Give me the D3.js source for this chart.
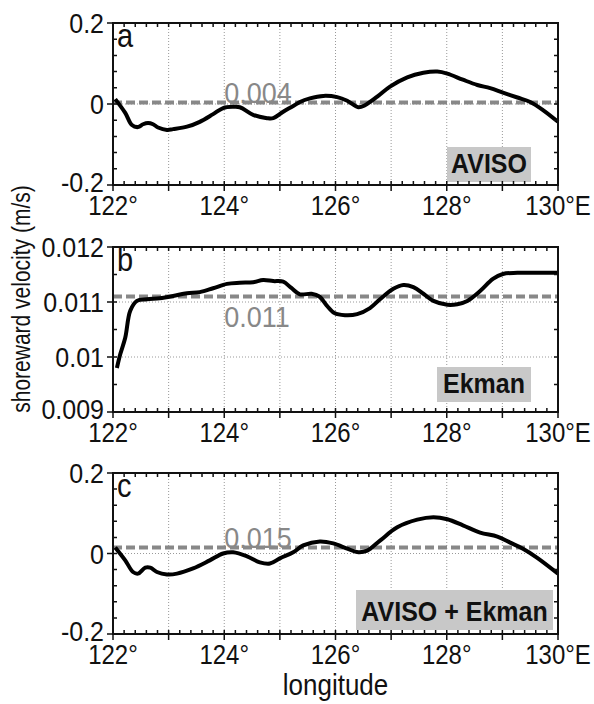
<!DOCTYPE html>
<html>
<head>
    <script src="https://cdnjs.cloudflare.com/ajax/libs/d3/7.8.5/d3.min.js"></script>
    <style>
        body { margin: 0; background: #fff; }
        svg text { font-family: "Liberation Sans", Arial, sans-serif; fill: #111; }
        .grid { stroke: #999; stroke-width: 1; stroke-dasharray: 1,2; }
        .frame { fill: none; stroke: #111; stroke-width: 2; }
        .tick { stroke: #111; stroke-width: 1.5; }
        .curve { fill: none; stroke: #000; stroke-width: 4; stroke-linejoin: round; }
        .mean { stroke: #888; stroke-width: 4; stroke-dasharray: 9,4; }
    </style>
</head>
<body>
<div id="chart"></div>
<script>
    const width = 594;
    const height = 704;

    // longitude ticks
    const lonTicks = [122, 123, 124, 125, 126, 127, 128, 129, 130];
    const lonLabels = ["122°", "", "124°", "", "126°", "", "128°", "", "130°E"];

    // panel a: AVISO
    const aLon = [122.04, 122.22, 122.34, 122.45, 122.54, 122.63, 122.72, 122.81, 122.97, 123.08,
                  123.33, 123.56, 123.80, 123.98, 124.16, 124.28, 124.52, 124.77, 124.88, 125.06,
                  125.24, 125.36, 125.54, 125.78, 126.03, 126.21, 126.41, 126.53, 126.75, 126.98,
                  127.29, 127.58, 127.83, 128.01, 128.29, 128.55, 128.78, 129.01, 129.27, 129.50,
                  129.73, 130.00];
    const aVal = [0.012, -0.022, -0.052, -0.057, -0.050, -0.047, -0.050, -0.058, -0.064, -0.062,
                  -0.056, -0.044, -0.025, -0.010, -0.007, -0.008, -0.027, -0.035, -0.035, -0.019,
                  -0.005, 0.005, 0.014, 0.020, 0.017, 0.008, -0.008, -0.003, 0.018, 0.043,
                  0.066, 0.077, 0.080, 0.075, 0.060, 0.047, 0.039, 0.028, 0.016, 0.005,
                  -0.015, -0.044];

    // panel b: Ekman
    const bLon = [122.07, 122.13, 122.22, 122.31, 122.43, 122.61, 122.84, 123.08, 123.33, 123.56,
                  123.80, 124.05, 124.28, 124.52, 124.70, 124.88, 125.06, 125.20, 125.36,
                  125.57, 125.71, 125.84, 125.98, 126.17, 126.39, 126.62, 126.80, 127.04,
                  127.22, 127.40, 127.58, 127.76, 128.01, 128.19, 128.37, 128.60, 128.83, 129.01,
                  129.27, 129.74, 130.00];
    const bVal = [0.00980, 0.01005, 0.01035, 0.01084, 0.01102, 0.01105, 0.01107, 0.01111, 0.01116, 0.01118,
                  0.01125, 0.01133, 0.01135, 0.01136, 0.01140, 0.01138, 0.01137, 0.01126, 0.01114,
                  0.01115, 0.01110, 0.01094, 0.01080, 0.01076, 0.01078, 0.01089, 0.01105, 0.01124,
                  0.01131, 0.01127, 0.01115, 0.01102, 0.01095, 0.01096, 0.01102, 0.01120, 0.01142, 0.01151,
                  0.01153, 0.01153, 0.01153];

    // panel c: AVISO + Ekman
    const cLon = [122.04, 122.22, 122.36, 122.45, 122.58, 122.67, 122.79, 122.97, 123.15, 123.44,
                  123.74, 123.98, 124.16, 124.41, 124.64, 124.82, 125.00, 125.24, 125.42, 125.72,
                  125.96, 126.21, 126.41, 126.57, 126.80, 127.11, 127.47, 127.76, 128.01, 128.29,
                  128.60, 128.91, 129.14, 129.37, 129.62, 130.00];
    const cVal = [0.015, -0.017, -0.046, -0.050, -0.035, -0.035, -0.046, -0.052, -0.050, -0.037,
                  -0.017, 0.000, 0.003, -0.007, -0.022, -0.025, -0.012, 0.003, 0.020, 0.030,
                  0.025, 0.012, 0.003, 0.007, 0.032, 0.065, 0.084, 0.090, 0.085, 0.070,
                  0.052, 0.042, 0.027, 0.012, -0.010, -0.050];

    // mean values (dashed lines) and their labels
    const meanVals = [0.004, 0.0111, 0.015];
    const meanLabels = ["0.004", "0.011", "0.015"];

    // y ticks
    const yTicksAC = [-0.2, 0, 0.2];
    const yLabelsAC = ["-0.2", "0", "0.2"];
    const yTicksB = [0.009, 0.010, 0.011, 0.012];
    const yLabelsB = ["0.009", "0.01", "0.011", "0.012"];

    const panelLetters = ["a", "b", "c"];
    const boxLabels = ["AVISO", "Ekman", "AVISO + Ekman"];

    const svg = d3.select("#chart")
        .append("svg")
        .attr("width", width)
        .attr("height", height);

    const left = 113, right = 558;
    const x = d3.scaleLinear().domain([122, 130]).range([left, right]);

    // the original's lettering is a bit taller than wide
    function addText(g, tx, ty, str, size, anchor) {
        return g.append("text")
            .attr("transform", `translate(${tx},${ty}) scale(1,1.12)`)
            .attr("text-anchor", anchor || "start")
            .attr("font-size", size)
            .text(str);
    }

    const panels = [
        {top: 23, bottom: 185, lon: aLon, val: aVal, domain: [-0.2, 0.2], ticks: yTicksAC, labels: yLabelsAC,
         minorStep: 0.04, mean: meanVals[0], meanLabel: meanLabels[0], labelDy: 0, box: [447, 531, 147, 182]},
        {top: 247, bottom: 412, lon: bLon, val: bVal, domain: [0.009, 0.012], ticks: yTicksB, labels: yLabelsB,
         minorStep: 0.0005, mean: meanVals[1], meanLabel: meanLabels[1], labelDy: 29, box: [437, 531, 367, 402]},
        {top: 473, bottom: 634, lon: cLon, val: cVal, domain: [-0.2, 0.2], ticks: yTicksAC, labels: yLabelsAC,
         minorStep: 0.04, mean: meanVals[2], meanLabel: meanLabels[2], labelDy: 0, box: [356, 553, 590, 630]}
    ];

    panels.forEach((p, i) => {
        const y = d3.scaleLinear().domain(p.domain).range([p.bottom, p.top]);
        const g = svg.append("g");

        // dotted grid
        g.selectAll(".vgrid")
            .data(lonTicks.slice(1, -1))
            .enter().append("line")
            .attr("class", "grid")
            .attr("x1", d => x(d)).attr("x2", d => x(d))
            .attr("y1", p.top).attr("y2", p.bottom);
        g.selectAll(".hgrid")
            .data(p.ticks.slice(1, -1))
            .enter().append("line")
            .attr("class", "grid")
            .attr("x1", left).attr("x2", right)
            .attr("y1", d => y(d)).attr("y2", d => y(d));

        // label box
        g.append("rect")
            .attr("x", p.box[0]).attr("y", p.box[2])
            .attr("width", p.box[1] - p.box[0])
            .attr("height", p.box[3] - p.box[2])
            .attr("fill", "#c8c8c8");
        addText(g, (p.box[0] + p.box[1]) / 2, p.box[3] - 9, boxLabels[i], 25, "middle")
            .attr("font-weight", "bold");

        // mean line + value
        addText(g, x(124.0), y(p.mean) + 1 + p.labelDy, p.meanLabel, 27)
            .style("fill", "#888");
        g.append("line")
            .attr("class", "mean")
            .attr("x1", left).attr("x2", right)
            .attr("y1", y(p.mean)).attr("y2", y(p.mean));

        // curve
        const pts = p.lon.map((d, k) => [d, p.val[k]]);
        g.append("path")
            .datum(pts)
            .attr("class", "curve")
            .attr("d", d3.line()
                .x(d => x(d[0]))
                .y(d => y(d[1]))
                .curve(d3.curveCatmullRom));

        // minor ticks (inside)
        const xMinor = d3.range(122, 130.001, 0.2);
        g.selectAll(".xminor")
            .data(xMinor)
            .enter().append("path")
            .attr("class", "tick")
            .attr("d", d => `M${x(d)},${p.bottom}v-4M${x(d)},${p.top}v4`);
        const yMinor = d3.range(p.domain[0], p.domain[1] + p.minorStep / 2, p.minorStep);
        g.selectAll(".yminor")
            .data(yMinor)
            .enter().append("path")
            .attr("class", "tick")
            .attr("d", d => `M${left},${y(d)}h4M${right},${y(d)}h-4`);

        // major ticks (outside)
        g.selectAll(".xmajor")
            .data(lonTicks)
            .enter().append("path")
            .attr("class", "tick")
            .attr("d", d => `M${x(d)},${p.bottom}v6`);
        g.selectAll(".ymajor")
            .data(p.ticks)
            .enter().append("path")
            .attr("class", "tick")
            .attr("d", d => `M${left},${y(d)}h-6`);

        // frame
        g.append("rect")
            .attr("class", "frame")
            .attr("x", left).attr("y", p.top)
            .attr("width", right - left)
            .attr("height", p.bottom - p.top);

        // tick labels
        lonTicks.forEach((d, k) => {
            if (lonLabels[k] !== "") addText(g, x(d), p.bottom + 30, lonLabels[k], 24, "middle");
        });
        p.ticks.forEach((d, k) => {
            addText(g, left - 9, y(d) + (k === 0 ? 7 : 10), p.labels[k], 25, "end");
        });

        // panel letter
        addText(g, left + 4, p.top + 24, panelLetters[i], 29);
    });

    // axis titles
    svg.append("text")
        .attr("transform", "translate(30,299) rotate(-90) scale(1.0,1.25)")
        .attr("text-anchor", "middle")
        .attr("font-size", 21)
        .text("shoreward velocity (m/s)");
    addText(svg, (left + right) / 2, 695, "longitude", 26, "middle");
</script>
</body>
</html>
